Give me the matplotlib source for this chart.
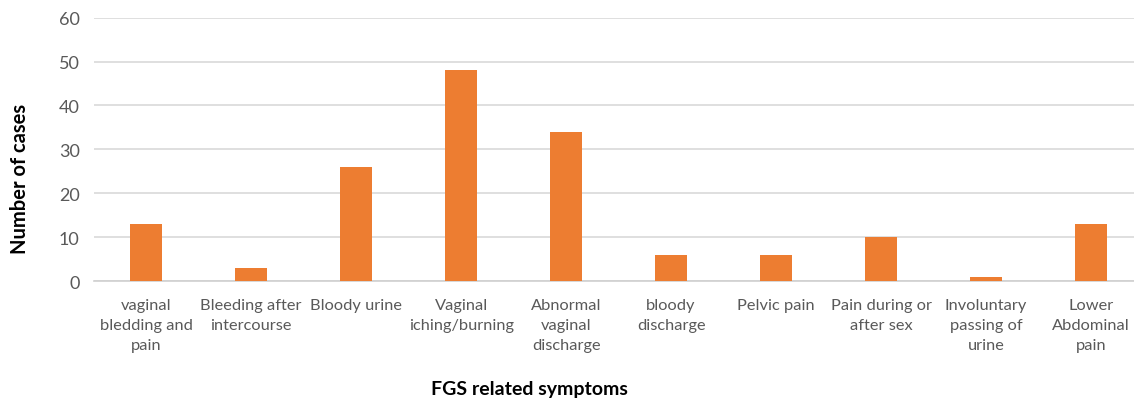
import matplotlib
matplotlib.use("Agg")
import matplotlib.pyplot as plt
import numpy as np

symptoms = [
    "vaginal\nbledding and\npain",
    "Bleeding after\nintercourse",
    "Bloody urine",
    "Vaginal\niching/burning",
    "Abnormal\nvaginal\ndischarge",
    "bloody\ndischarge",
    "Pelvic pain",
    "Pain during or\nafter sex",
    "Involuntary\npassing of\nurine",
    "Lower\nAbdominal\npain",
]
cases = [13, 3, 26, 48, 34, 6, 6, 10, 1, 13]
y_ticks = [0, 10, 20, 30, 40, 50, 60]

plt.rcParams['font.family'] = ['Lato', 'DejaVu Sans']

fig = plt.figure(figsize=(11.34, 4.02), dpi=100)
ax = fig.add_axes([0.0825, 0.2985, 0.926, 0.655])

x = np.arange(len(cases))
ax.bar(x, cases, width=0.31, color='#ED7D31', zorder=3)

ax.set_xlim(-0.5, len(cases) - 0.5)
ax.set_ylim(0, 60)
ax.set_yticks(y_ticks)
ax.set_xticks(x)
ax.set_xticklabels(symptoms, fontsize=11.8, color='#595959', linespacing=1.55)
ax.tick_params(axis='y', labelsize=13, labelcolor='#595959', length=0, pad=10)
ax.tick_params(axis='x', length=0, pad=12)

ax.grid(axis='y', color='#D9D9D9', linewidth=1.2, zorder=0)
for s in ['top', 'right', 'left']:
    ax.spines[s].set_visible(False)
ax.spines['bottom'].set_color('#D0D0D0')
ax.spines['bottom'].set_linewidth(1.2)

fig.text(0.018, 0.555, 'Number of cases', rotation=90, fontsize=14.5, fontweight='bold',
         ha='center', va='center', color='black')
fig.text(529 / 1134, 0.03, 'FGS related symptoms', fontsize=14, fontweight='bold',
         ha='center', va='center', color='black')

fig.savefig('out.png', dpi=100)
